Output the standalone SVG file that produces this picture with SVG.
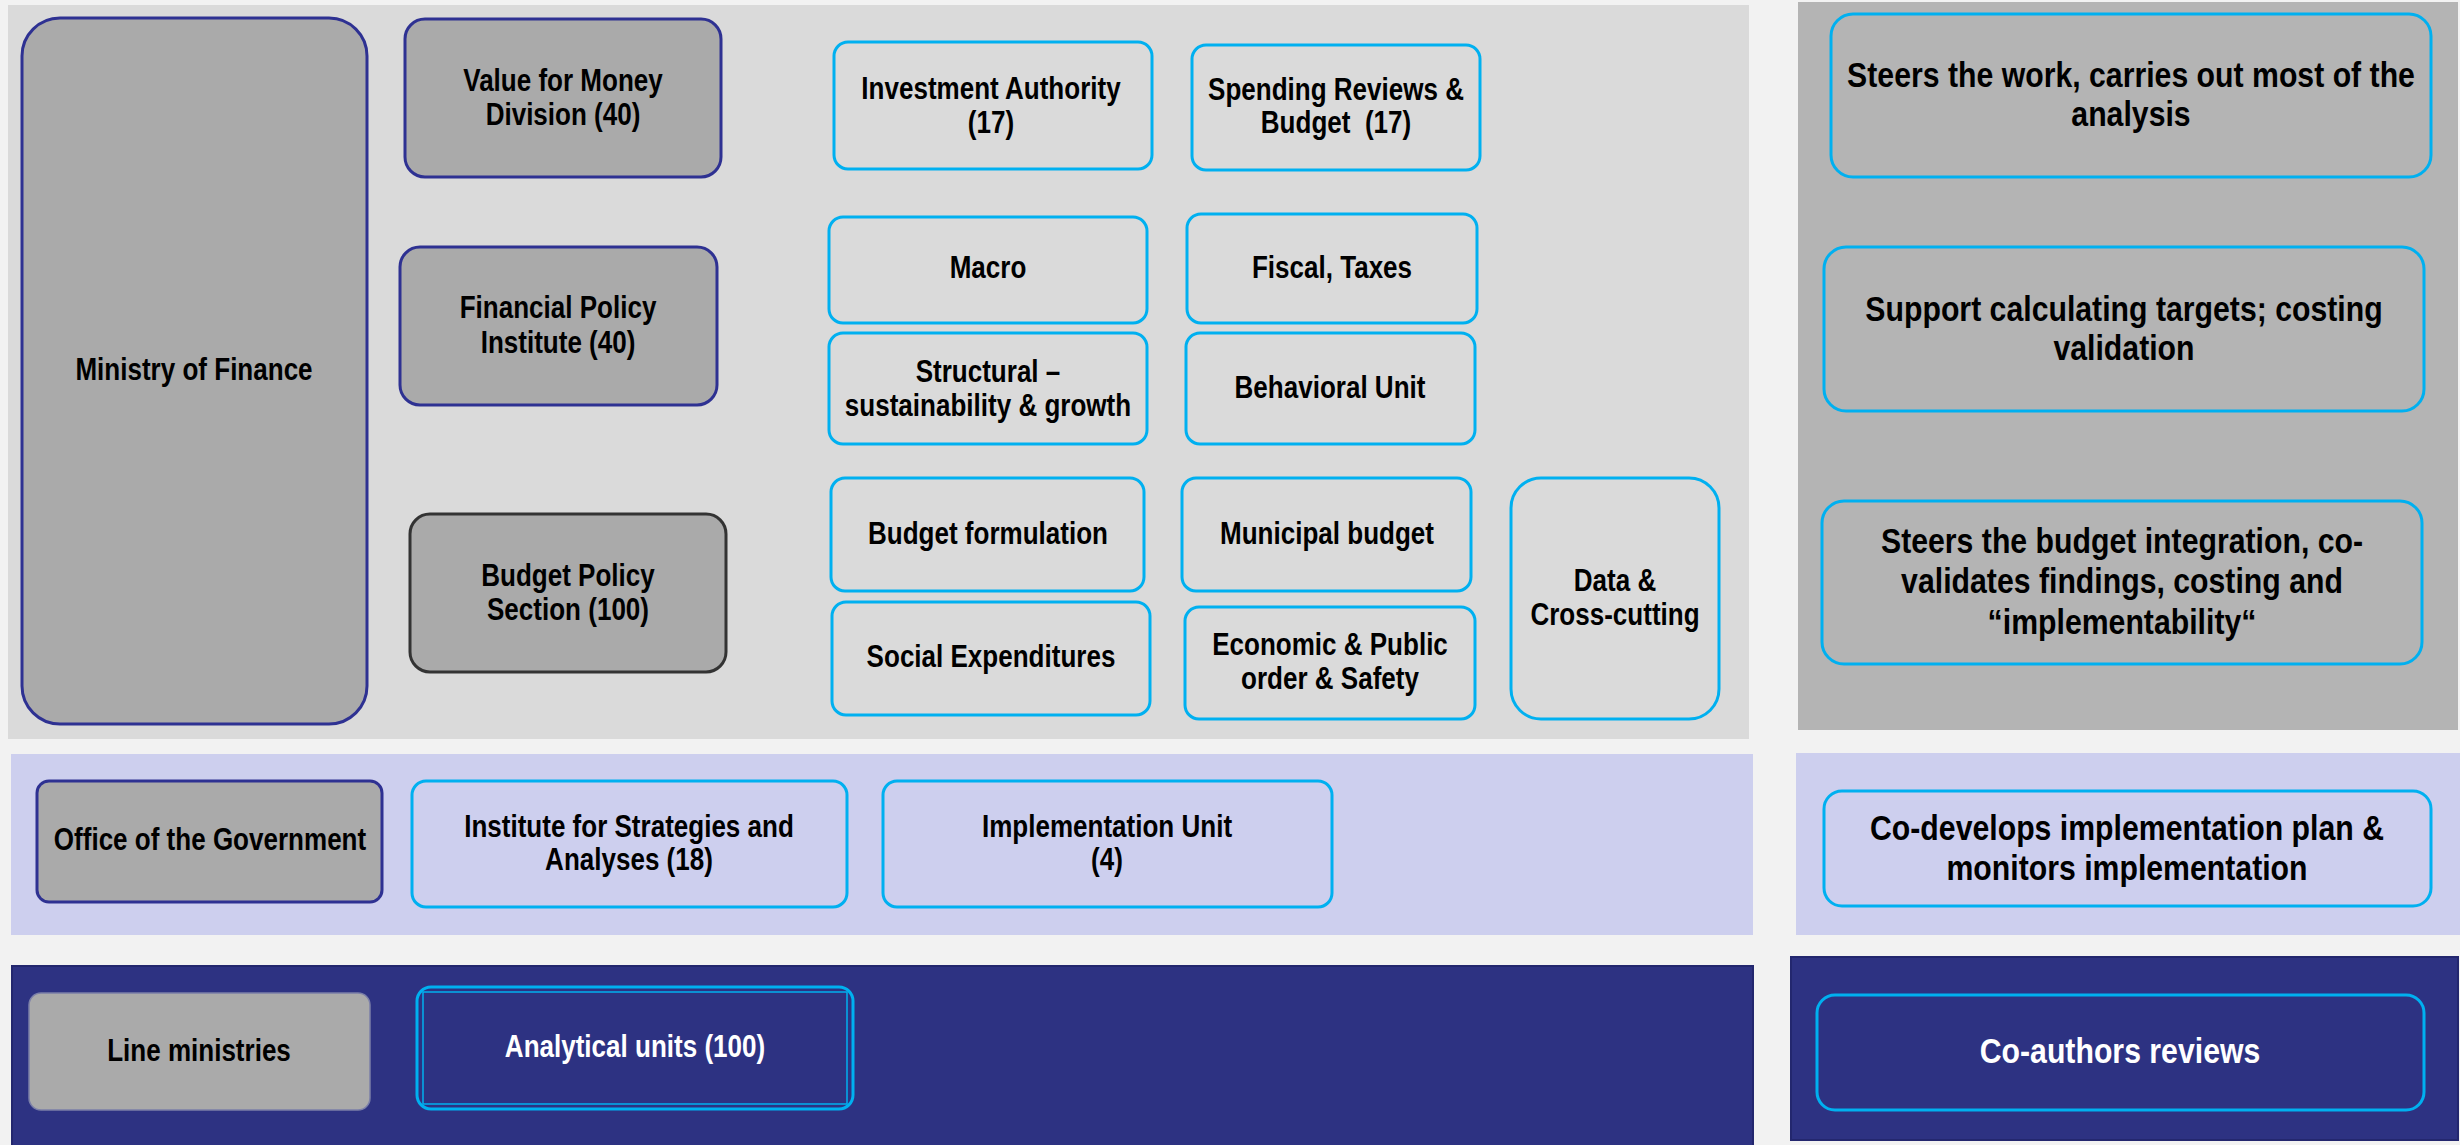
<svg xmlns="http://www.w3.org/2000/svg" width="2460" height="1145" viewBox="0 0 2460 1145">
<style>
.bgpanel{stroke:none}
.gray{fill:#aaaaaa;stroke:#2e3192;stroke-width:3}
.grayd{fill:#aaaaaa;stroke:#333333;stroke-width:3}
.blu{fill:none;stroke:#00b0f0;stroke-width:3}
.blunavy{fill:#2d3282;stroke:#00b0f0;stroke-width:3}
.t{font-family:"Liberation Sans",Arial,sans-serif;font-weight:bold;font-size:31px;fill:#000;text-anchor:middle}
.t36{font-family:"Liberation Sans",Arial,sans-serif;font-weight:bold;font-size:36px;fill:#000;text-anchor:middle}
.w{fill:#ffffff}
</style>
<rect x="0" y="0" width="2460" height="1145" fill="#f2f2f2"/>
<g id="panels">
<rect x="8" y="5" width="1741" height="734" fill="#dadada"/>
<rect x="1798" y="2" width="660" height="728" fill="#b4b4b4"/>
<rect x="11" y="754" width="1742" height="181" fill="#cdcfee"/>
<rect x="1796" y="753" width="664" height="182" fill="#cdcfee"/>
<rect x="12" y="966" width="1741" height="182" fill="#2d3282" stroke="#23276e" stroke-width="2"/>
<rect x="1791" y="957" width="667" height="183" fill="#2d3282" stroke="#23276e" stroke-width="2"/>
</g>
<g id="connectors"></g>
<g id="mof">
<rect class="gray" x="22" y="18" width="345" height="706" rx="38"/>
<text class="t" transform="translate(194 0) scale(0.84 1)" x="0" y="380">Ministry of Finance</text>
</g>
<g id="vfm">
<rect class="gray" x="405" y="19" width="316" height="158" rx="20"/>
<text class="t" transform="translate(563 0) scale(0.84 1)"><tspan x="0" y="91">Value for Money</tspan><tspan x="0" y="125">Division (40)</tspan></text>
</g>
<g id="fpi">
<rect class="gray" x="400" y="247" width="317" height="158" rx="20"/>
<text class="t" transform="translate(558 0) scale(0.84 1)"><tspan x="0" y="318">Financial Policy</tspan><tspan x="0" y="353">Institute (40)</tspan></text>
</g>
<g id="bps">
<rect class="grayd" x="410" y="514" width="316" height="158" rx="20"/>
<text class="t" transform="translate(568 0) scale(0.84 1)"><tspan x="0" y="586">Budget Policy</tspan><tspan x="0" y="620">Section (100)</tspan></text>
</g>
<g id="invest">
<rect class="blu" x="834" y="42" width="318" height="127" rx="14"/>
<text class="t" transform="translate(991 0) scale(0.84 1)"><tspan x="0" y="99">Investment Authority</tspan><tspan x="0" y="133">(17)</tspan></text>
</g>
<g id="spending">
<rect class="blu" x="1192" y="45" width="288" height="125" rx="14"/>
<text class="t" transform="translate(1336 0) scale(0.84 1)" xml:space="preserve"><tspan x="0" y="100">Spending Reviews &amp;</tspan><tspan x="0" y="133">Budget  (17)</tspan></text>
</g>
<g id="macro">
<rect class="blu" x="829" y="217" width="318" height="106" rx="14"/>
<text class="t" transform="translate(988 0) scale(0.84 1)" x="0" y="278">Macro</text>
</g>
<g id="fiscal">
<rect class="blu" x="1187" y="214" width="290" height="109" rx="14"/>
<text class="t" transform="translate(1332 0) scale(0.84 1)" x="0" y="278">Fiscal, Taxes</text>
</g>
<g id="structural">
<rect class="blu" x="829" y="333" width="318" height="111" rx="14"/>
<text class="t" transform="translate(988 0) scale(0.84 1)"><tspan x="0" y="382">Structural –</tspan><tspan x="0" y="416">sustainability &amp; growth</tspan></text>
</g>
<g id="behavioral">
<rect class="blu" x="1186" y="333" width="289" height="111" rx="14"/>
<text class="t" transform="translate(1330 0) scale(0.84 1)" x="0" y="398">Behavioral Unit</text>
</g>
<g id="budgetform">
<rect class="blu" x="831" y="478" width="313" height="113" rx="14"/>
<text class="t" transform="translate(988 0) scale(0.84 1)" x="0" y="544">Budget formulation</text>
</g>
<g id="municipal">
<rect class="blu" x="1182" y="478" width="289" height="113" rx="14"/>
<text class="t" transform="translate(1327 0) scale(0.84 1)" x="0" y="544">Municipal budget</text>
</g>
<g id="social">
<rect class="blu" x="832" y="602" width="318" height="113" rx="14"/>
<text class="t" transform="translate(991 0) scale(0.84 1)" x="0" y="667">Social Expenditures</text>
</g>
<g id="economic">
<rect class="blu" x="1185" y="607" width="290" height="112" rx="14"/>
<text class="t" transform="translate(1330 0) scale(0.84 1)"><tspan x="0" y="655">Economic &amp; Public</tspan><tspan x="0" y="689">order &amp; Safety</tspan></text>
</g>
<g id="data">
<rect class="blu" x="1511" y="478" width="208" height="241" rx="30"/>
<text class="t" transform="translate(1615 0) scale(0.84 1)"><tspan x="0" y="591">Data &amp;</tspan><tspan x="0" y="625">Cross-cutting</tspan></text>
</g>
<g id="office">
<rect class="gray" x="37" y="781" width="345" height="121" rx="12"/>
<text class="t" transform="translate(210 0) scale(0.84 1)" x="0" y="850">Office of the Government</text>
</g>
<g id="institute">
<rect class="blu" x="412" y="781" width="435" height="126" rx="14"/>
<text class="t" transform="translate(629 0) scale(0.84 1)"><tspan x="0" y="837">Institute for Strategies and</tspan><tspan x="0" y="870">Analyses (18)</tspan></text>
</g>
<g id="implementation">
<rect class="blu" x="883" y="781" width="449" height="126" rx="14"/>
<text class="t" transform="translate(1107 0) scale(0.84 1)"><tspan x="0" y="837">Implementation Unit</tspan><tspan x="0" y="870">(4)</tspan></text>
</g>
<g id="lineministries">
<rect x="29" y="993" width="341" height="117" rx="12" fill="#aaaaaa" stroke="#7b7fa8" stroke-width="1.5"/>
<text class="t" transform="translate(199 0) scale(0.84 1)" x="0" y="1061">Line ministries</text>
</g>
<g id="analytical">
<rect class="blunavy" x="417" y="987" width="436" height="122" rx="14"/>
<rect x="423" y="992" width="424" height="112" fill="none" stroke="#00b0f0" stroke-width="1.5"/>
<text class="t w" transform="translate(635 0) scale(0.84 1)" x="0" y="1057">Analytical units (100)</text>
</g>
<g id="role1">
<rect class="blu" x="1831" y="14" width="600" height="163" rx="22"/>
<text class="t36" transform="translate(2131 0) scale(0.84 1)"><tspan x="0" y="87">Steers the work, carries out most of the</tspan><tspan x="0" y="126">analysis</tspan></text>
</g>
<g id="role2">
<rect class="blu" x="1824" y="247" width="600" height="164" rx="22"/>
<text class="t36" transform="translate(2124 0) scale(0.84 1)"><tspan x="0" y="321">Support calculating targets; costing</tspan><tspan x="0" y="360">validation</tspan></text>
</g>
<g id="role3">
<rect class="blu" x="1822" y="501" width="600" height="163" rx="22"/>
<text class="t36" transform="translate(2122 0) scale(0.84 1)"><tspan x="0" y="553">Steers the budget integration, co-</tspan><tspan x="0" y="593">validates findings, costing and</tspan><tspan x="0" y="634">“implementability“</tspan></text>
</g>
<g id="role4">
<rect class="blu" x="1824" y="791" width="607" height="115" rx="18"/>
<text class="t36" transform="translate(2127 0) scale(0.84 1)"><tspan x="0" y="840">Co-develops implementation plan &amp;</tspan><tspan x="0" y="880">monitors implementation</tspan></text>
</g>
<g id="role5">
<rect class="blunavy" x="1817" y="995" width="607" height="115" rx="18"/>
<text class="t36 w" transform="translate(2120 0) scale(0.84 1)" x="0" y="1063">Co-authors reviews</text>
</g>
</svg>
